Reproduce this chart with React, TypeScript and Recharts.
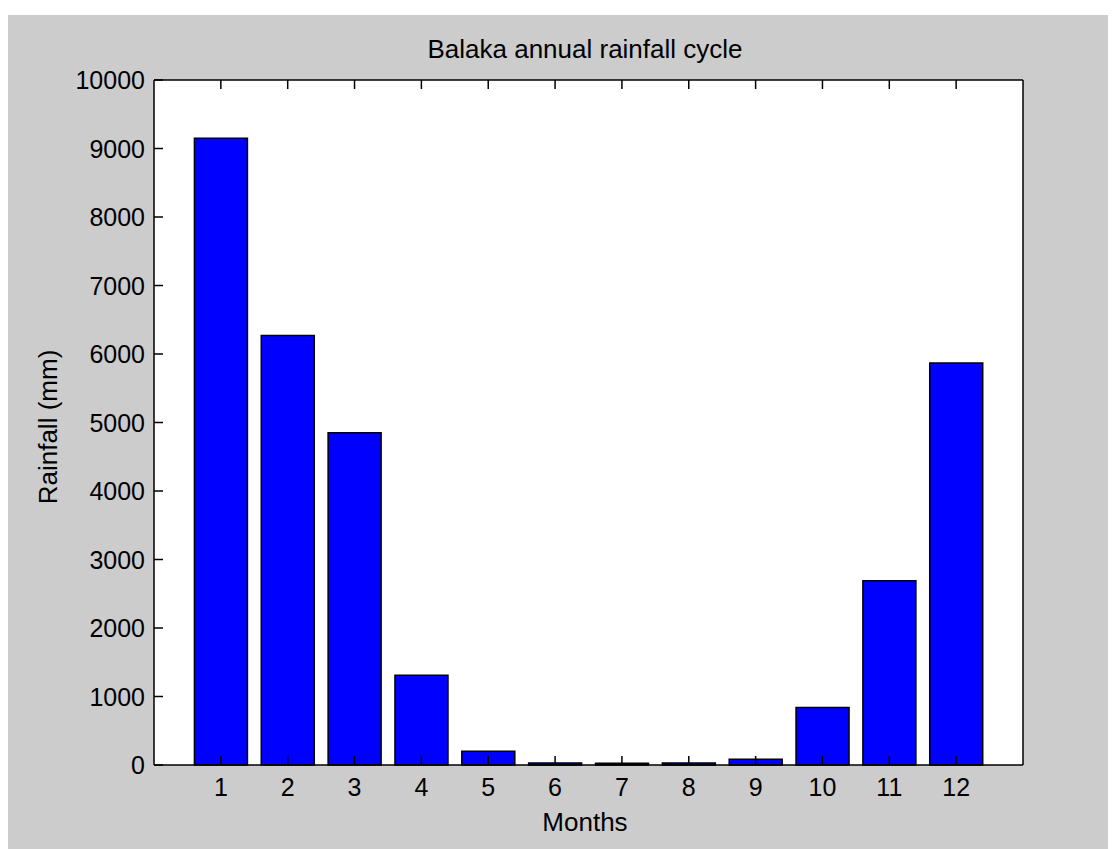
import React from "react"
import { Bar, BarChart, CartesianGrid, XAxis, YAxis } from "recharts"

const months = [1, 2, 3, 4, 5, 6, 7, 8, 9, 10, 11, 12]
const rainfall = [9150, 6270, 4850, 1310, 200, 30, 25, 30, 85, 840, 2690, 5870]
const yTicks = [0, 1000, 2000, 3000, 4000, 5000, 6000, 7000, 8000, 9000, 10000]

const data = months.map((m, i) => ({ month: m, rain: rainfall[i] }))

const font = "'Liberation Sans', Arial, sans-serif"
const TICK = 9

const BottomTick = (props: any) => {
  const { x, y, payload } = props
  return (
    <g>
      <line x1={x} x2={x} y1={y} y2={y - TICK} stroke="#000" strokeWidth={1.5} />
      <text x={x} y={y + 31} textAnchor="middle" fontSize={25} fontFamily={font} fill="#000">
        {payload.value}
      </text>
    </g>
  )
}

const TopTick = (props: any) => {
  const { x, y } = props
  return <line x1={x} x2={x} y1={y} y2={y + TICK} stroke="#000" strokeWidth={1.5} />
}

const LeftTick = (props: any) => {
  const { x, y, payload } = props
  return (
    <g>
      <line x1={x} x2={x + TICK} y1={y} y2={y} stroke="#000" strokeWidth={1.5} />
      <text x={x - 9} y={y} dy="0.36em" textAnchor="end" fontSize={25} fontFamily={font} fill="#000">
        {payload.value}
      </text>
    </g>
  )
}

const RightTick = (props: any) => {
  const { x, y } = props
  return <line x1={x} x2={x - TICK} y1={y} y2={y} stroke="#000" strokeWidth={1.5} />
}

export default function App() {
  return (
    <div
      style={{
        position: "relative",
        marginLeft: -1,
        marginTop: 7,
        width: 1109,
        height: 834,
        background: "#cccccc",
      }}
    >
      <BarChart
        width={1109}
        height={834}
        data={data}
        margin={{ top: 64, right: 92, bottom: 44, left: 67 }}
      >
        <CartesianGrid xAxisId="bottom" yAxisId="left" horizontal={false} vertical={false} fill="#ffffff" />
        <XAxis
          xAxisId="bottom"
          dataKey="month"
          type="number"
          domain={[0, 13]}
          ticks={months}
          interval={0}
          height={40}
          tickSize={0}
          tickMargin={0}
          tick={<BottomTick />}
          axisLine={{ stroke: "#000", strokeWidth: 1.5 }}
        />
        <XAxis
          xAxisId="top"
          orientation="top"
          dataKey="month"
          type="number"
          domain={[0, 13]}
          ticks={months}
          interval={0}
          height={1}
          tickSize={0}
          tickMargin={0}
          tick={<TopTick />}
          axisLine={{ stroke: "#000", strokeWidth: 1.5 }}
        />
        <YAxis
          yAxisId="left"
          domain={[0, 10000]}
          ticks={yTicks}
          interval={0}
          width={80}
          tickSize={0}
          tickMargin={0}
          tick={<LeftTick />}
          axisLine={{ stroke: "#000", strokeWidth: 1.5 }}
        />
        <YAxis
          yAxisId="right"
          orientation="right"
          domain={[0, 10000]}
          ticks={yTicks}
          interval={0}
          width={1}
          tickSize={0}
          tickMargin={0}
          tick={<RightTick />}
          axisLine={{ stroke: "#000", strokeWidth: 1.5 }}
        />
        <Bar
          xAxisId="bottom"
          yAxisId="left"
          dataKey="rain"
          barSize={53}
          fill="#0000ff"
          stroke="#000"
          strokeWidth={1.5}
          isAnimationActive={false}
        />
      </BarChart>
      <svg
        width={1109}
        height={834}
        style={{ position: "absolute", left: 0, top: 0, pointerEvents: "none" }}
      >
        <text x={578} y={43} textAnchor="middle" fontSize={26} fontFamily={font} fill="#000">
          Balaka annual rainfall cycle
        </text>
        <text x={578} y={816} textAnchor="middle" fontSize={26} fontFamily={font} fill="#000">
          Months
        </text>
        <text
          transform="translate(50, 412) rotate(-90)"
          textAnchor="middle"
          fontSize={26}
          fontFamily={font}
          fill="#000"
        >
          Rainfall (mm)
        </text>
      </svg>
    </div>
  )
}
